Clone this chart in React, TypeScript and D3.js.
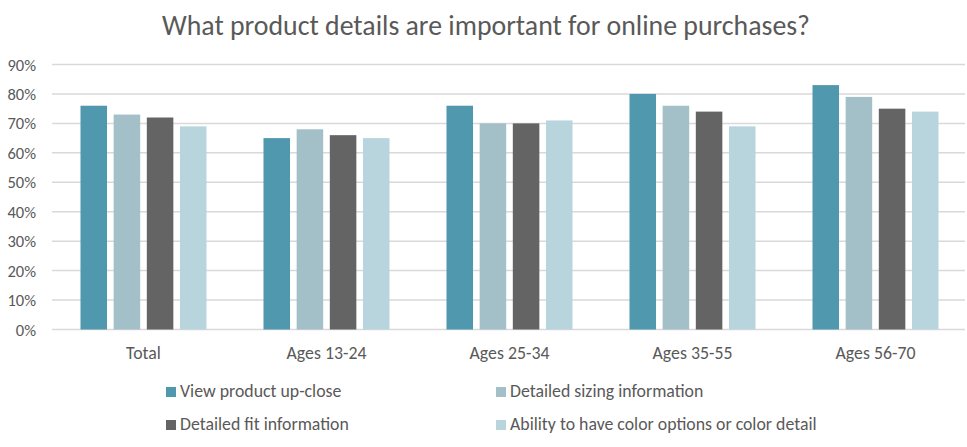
import React, { useEffect, useRef } from "react";
import * as d3 from "d3";

const categories = ["Total", "Ages 13-24", "Ages 25-34", "Ages 35-55", "Ages 56-70"];
const seriesNames = [
  "View product up-close",
  "Detailed sizing information",
  "Detailed fit information",
  "Ability to have color options or color detail",
];
const viewUpClose = [76, 65, 76, 80, 83];
const sizingInfo = [73, 68, 70, 76, 79];
const fitInfo = [72, 66, 70, 74, 75];
const colorOptions = [69, 65, 71, 69, 74];
const yTicks = [0, 10, 20, 30, 40, 50, 60, 70, 80, 90];
const colors = ["#4F98AD", "#A3C0C9", "#646464", "#B8D5DD"];

const W = 967;
const H = 447;
const FONT = "Carlito, Calibri, Lato, sans-serif";

export default function App() {
  const ref = useRef<SVGSVGElement>(null);
  useEffect(() => {
    document.body.style.margin = "0";
    const svg = d3.select(ref.current);
    svg.selectAll("*").remove();
    const series = [viewUpClose, sizingInfo, fitInfo, colorOptions];
    const m = { left: 52, right: 0 };
    const x0 = d3.scaleBand().domain(categories).range([m.left, W - m.right]).paddingInner(0).paddingOuter(0);
    const groupW = 126;
    const x1 = d3
      .scaleBand()
      .domain(seriesNames)
      .range([0, groupW])
      .paddingInner(0.2)
      .paddingOuter(0);
    const y = d3.scaleLinear().domain([0, 90]).range([329.5, 64.5]);

    svg.append("rect").attr("width", W).attr("height", H).attr("fill", "#fff");

    svg
      .append("text")
      .attr("x", 486)
      .attr("y", 35)
      .attr("text-anchor", "middle")
      .attr("font-family", FONT)
      .attr("font-size", 27.8)
      .attr("fill", "#595959")
      .text("What product details are important for online purchases?");

    const g = svg.append("g");
    yTicks.forEach((t) => {
      g.append("line")
        .attr("x1", m.left)
        .attr("x2", W - 2)
        .attr("y1", y(t))
        .attr("y2", y(t))
        .attr("stroke", "#D9D9D9")
        .attr("stroke-width", 1.5);
      g.append("text")
        .attr("x", 36)
        .attr("y", y(t) + 6)
        .attr("text-anchor", "end")
        .attr("font-family", FONT)
        .attr("font-size", 16.5)
        .attr("fill", "#595959")
        .text(`${t}%`);
    });

    categories.forEach((c, ci) => {
      const gx = x0(c)! + (x0.bandwidth() - groupW) / 2;
      series.forEach((s, si) => {
        g.append("rect")
          .attr("x", gx + x1(seriesNames[si])!)
          .attr("y", y(s[ci]))
          .attr("width", x1.bandwidth())
          .attr("height", y(0) - y(s[ci]))
          .attr("fill", colors[si]);
      });
      g.append("text")
        .attr("x", x0(c)! + x0.bandwidth() / 2)
        .attr("y", 359)
        .attr("text-anchor", "middle")
        .attr("font-family", FONT)
        .attr("font-size", 17.8)
        .attr("fill", "#595959")
        .text(c);
    });

    const legendPos = [
      [166, 397],
      [496, 397],
      [166, 430],
      [496, 430],
    ];
    seriesNames.forEach((n, i) => {
      const [lx, ly] = legendPos[i];
      svg
        .append("rect")
        .attr("x", lx)
        .attr("y", ly - 10)
        .attr("width", 10)
        .attr("height", 10)
        .attr("fill", colors[i]);
      svg
        .append("text")
        .attr("x", lx + 14)
        .attr("y", ly)
        .attr("font-family", FONT)
        .attr("font-size", 17.8)
        .attr("fill", "#595959")
        .text(n);
    });
  }, []);
  return <svg ref={ref} width={W} height={H} style={{ display: "block" }} />;
}
